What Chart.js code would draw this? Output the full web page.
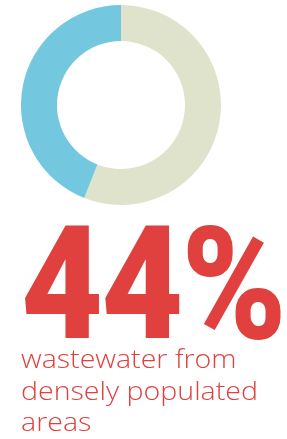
<!DOCTYPE html>
<html>
<head>
<meta charset="utf-8">
<script src="https://cdn.jsdelivr.net/npm/chart.js@4/dist/chart.umd.min.js"></script>
<style>
  html, body { margin: 0; padding: 0; background: #fff; }
  body { width: 287px; height: 439px; position: relative; overflow: hidden; }
  #chartBox { position: absolute; left: 21px; top: 5px; width: 200px; height: 200px; }
  #bigValue {
    position: absolute; left: 21px; top: 206px;
    font-family: Roboto, sans-serif;
    font-weight: 900; font-size: 157px; line-height: 1; color: #E0413F;
    white-space: nowrap; transform-origin: 0 0; letter-spacing: -2px;
  }
  #caption {
    position: absolute; left: 21px; top: 343px;
    font-family: "Open Sans", sans-serif; font-weight: 300;
    font-size: 26px; line-height: 31.5px; color: #E0413F;
    white-space: nowrap; transform-origin: 0 0;
  }
</style>
</head>
<body>
<div id="chartBox"><canvas id="shareChart"></canvas></div>
<div id="bigValue">44%</div>
<div id="caption">wastewater from<br>densely populated<br>areas</div>
<script>
const categories = ['Other areas', 'Densely populated areas'];
const shares = [56, 44];
const sliceColors = ['#E0E3CB', '#73C8E0'];

// squeeze a text block horizontally to a given width
function fitWidth(el, target) {
    const w = el.getBoundingClientRect().width;
    el.style.transform = 'scaleX(' + (target / w) + ')';
}

document.addEventListener('DOMContentLoaded', function() {
    fitWidth(document.getElementById('bigValue'), 264);
    fitWidth(document.getElementById('caption'), 237);

    const ctx = document.getElementById('shareChart').getContext('2d');
    new Chart(ctx, {
        type: 'doughnut',
        data: {
            labels: categories,
            datasets: [{
                data: shares,
                backgroundColor: sliceColors,
                borderWidth: 0
            }]
        },
        options: {
            responsive: true,
            maintainAspectRatio: false,
            animation: false,
            cutout: '64%',
            plugins: {
                legend: { display: false },
                tooltip: { enabled: false }
            }
        }
    });
});
</script>
</body>
</html>
